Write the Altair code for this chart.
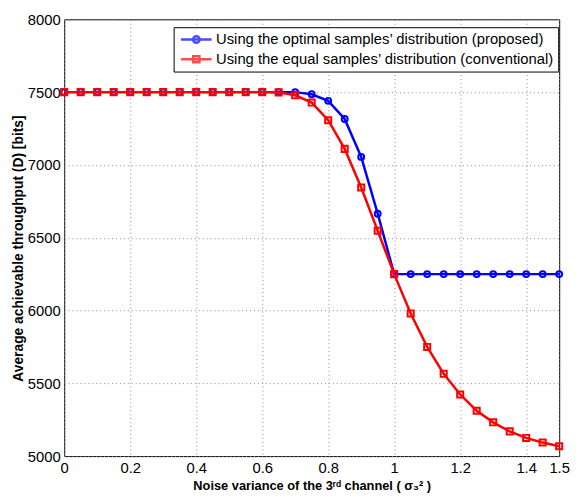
import altair as alt
import pandas as pd

x_vals = [0.0, 0.05, 0.1, 0.15, 0.2, 0.25, 0.3, 0.35, 0.4, 0.45, 0.5, 0.55, 0.6, 0.65,
          0.7, 0.75, 0.8, 0.85, 0.9, 0.95, 1.0, 1.05, 1.1, 1.15, 1.2, 1.25, 1.3, 1.35,
          1.4, 1.45, 1.5]
optimal = [7500, 7500, 7500, 7500, 7500, 7500, 7500, 7500, 7500, 7500, 7500, 7500, 7500, 7500,
           7500, 7485, 7440, 7315, 7055, 6665, 6250, 6250, 6250, 6250, 6250, 6250, 6250, 6250,
           6250, 6250, 6250]
equal = [7500, 7500, 7500, 7500, 7500, 7500, 7500, 7500, 7500, 7500, 7500, 7500, 7500, 7498,
         7478, 7428, 7307, 7110, 6845, 6548, 6250, 5980, 5750, 5565, 5423, 5312, 5232, 5170,
         5125, 5093, 5068]
series_names = ["Using the optimal samples\u2019 distribution (proposed)",
                "Using the equal samples\u2019 distribution (conventional)"]
series_colors = ["#0000ff", "#ff0000"]
x_ticks = [0, 0.2, 0.4, 0.6, 0.8, 1.0, 1.2, 1.4, 1.5]
y_ticks = [5000, 5500, 6000, 6500, 7000, 7500, 8000]

df = pd.DataFrame({
    "x": x_vals * 2,
    "y": optimal + equal,
    "series": [series_names[0]] * len(x_vals) + [series_names[1]] * len(x_vals),
})

FONT = "Liberation Sans"

xenc = alt.X("x:Q", scale=alt.Scale(domain=[0, 1.5], nice=False),
             axis=alt.Axis(values=x_ticks, format="~g", grid=True, ticks=False, domain=False,
                           labelFontSize=15, labelPadding=5, labelFont=FONT,
                           title="Noise variance of the 3\u02b3\u1d48 channel ( \u03c3\u2083\u00b2 )",
                           titleFont=FONT, titleFontSize=13, titleFontWeight="bold",
                           titleBaseline="alphabetic", titleY=34,
                           labelFlush=False))
yenc = alt.Y("y:Q", scale=alt.Scale(domain=[5000, 8000], nice=False),
             axis=alt.Axis(values=y_ticks, format="d", grid=True, ticks=False, domain=False,
                           labelFontSize=15, labelPadding=4, labelFont=FONT,
                           title="Average achievable throughput (D) [bits]",
                           titleFont=FONT, titleFontSize=14, titleFontWeight="bold",
                           titleBaseline="alphabetic", titleX=-42, titleY=232))

color_scale = alt.Scale(domain=series_names, range=series_colors)

circle_path = ("M-0.71,0L3.71,0M1.03,0A0.47,0.47 0 1,0 1.97,0"
               "A0.47,0.47 0 1,0 1.03,0")
square_path = "M-0.71,0L3.71,0M1.05,-0.45L1.95,-0.45L1.95,0.45L1.05,0.45Z"
shape_scale = alt.Scale(domain=series_names, range=[circle_path, square_path])

legend_spec = dict(title=None, orient="none", legendX=111, legendY=8,
                   strokeColor="black", fillColor="white", padding=4,
                   labelFontSize=15, labelFont=FONT, labelLimit=600,
                   labelExpr="datum.label + '\u00a0\u00a0\u00a0\u00a0'",
                   symbolSize=196, symbolStrokeWidth=2.5, labelOffset=22,
                   rowPadding=3, cornerRadius=0)

base = alt.Chart(df)

def series_layers(name, color, shape, size):
    d = base.transform_filter(alt.datum.series == name)
    line = d.mark_line(strokeWidth=2.5, color=color).encode(x=xenc, y=yenc)
    pts = d.mark_point(shape=shape, filled=False, size=size, strokeWidth=2, opacity=1,
                       color=color).encode(x=xenc, y=yenc)
    return [line, pts]

legend_layer = base.transform_filter(alt.datum.x < -100).mark_point(filled=False).encode(
    x=xenc, y=yenc,
    color=alt.Color("series:N", scale=color_scale, legend=alt.Legend(**legend_spec)),
    shape=alt.Shape("series:N", scale=shape_scale, legend=alt.Legend(**legend_spec)),
)

chart = alt.layer(
    *series_layers(series_names[0], series_colors[0], "circle", 36),
    *series_layers(series_names[1], series_colors[1], "square", 38),
    legend_layer,
).properties(
    width=502, height=443,
    autosize=alt.AutoSizeParams(type="none"),
    padding={"left": 57, "top": 8, "right": 13, "bottom": 38},
).configure_view(
    stroke="black", strokeWidth=1
).configure_axis(
    gridColor="#888888", gridDash=[1, 3], gridOpacity=1, gridWidth=1,
    labelColor="black", titleColor="black"
)

chart.save("out.html", embed_options={"renderer": "svg", "actions": False})
